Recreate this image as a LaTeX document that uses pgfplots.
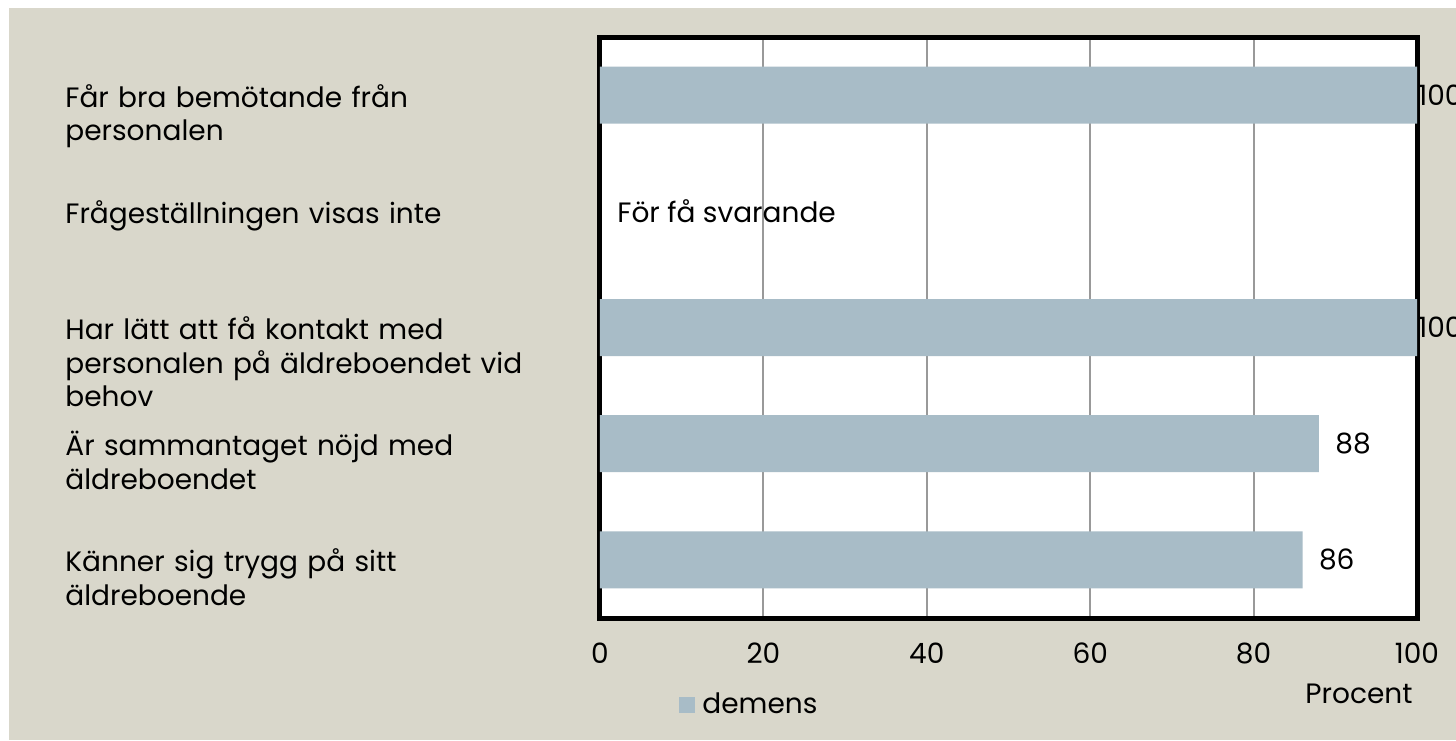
\documentclass[border=0pt]{standalone}
\usepackage{pgfplots}
\pgfplotsset{compat=1.18}
\usepackage{fontspec}
\setmainfont{Poppins}
\definecolor{bgc}{HTML}{D9D7CB}
\definecolor{barc}{HTML}{A8BCC7}
\definecolor{gridc}{HTML}{999999}
\newcommand{\lf}{\fontsize{14}{16.75}\selectfont}
\begin{document}
\begin{tikzpicture}[x=0.5pt,y=0.5pt]
\clip (0,0) rectangle (1456,740);
\fill[white] (0,0) rectangle (1456,740);
\fill[bgc] (9,0) rectangle (1456,732);
\begin{axis}[
  at={(300pt,61pt)}, anchor=south west,
  scale only axis, width=408.5pt, height=290.5pt,
  xmin=0, xmax=100, ymin=-0.5, ymax=4.5,
  xbar, bar width=28.5pt,
  axis background/.style={fill=white},
  axis line style={line width=2.5pt, black},
  xmajorgrids, grid style={gridc, line width=1pt},
  xtick={0,20,40,60,80,100},
  ytick={0,1,2,3,4},
  yticklabels={{Känner sig trygg på sitt\\äldreboende},
               {Är sammantaget nöjd med\\äldreboendet},
               {Har lätt att få kontakt med\\personalen på äldreboendet vid\\behov},
               {Frågeställningen visas inte},
               {Får bra bemötande från\\personalen}},
  major tick length=0pt,
  tick label style={font=\lf, text=black},
  /pgf/number format/assume math mode=true,
  xticklabel style={anchor=base, inner sep=0pt, yshift=-22.5pt},
  yticklabel style={anchor=base west, align=left, text width=255pt, inner sep=0pt, xshift=-267.5pt, yshift=-6pt},
  xlabel={Procent},
  xlabel style={at={(axis description cs:0.929,-0.148)}, anchor=base, inner sep=0pt, font=\lf},
  legend style={draw=none, fill=none, inner sep=0pt, font=\lf,
    at={(axis description cs:0.0967,-0.1497)}, anchor=west,
    nodes={inner sep=0pt},
    /tikz/every odd column/.append style={column sep=3.5pt}},
  legend image code/.code={\fill[barc] (0pt,-4pt) rectangle (8pt,4pt);},
  nodes near coords,
  every node near coord/.append style={font=\lf, text=black, anchor=west, inner sep=0pt},
]
\addplot[fill=barc, draw=none, bar shift=0pt,
  every node near coord/.append style={xshift=8pt}]
  coordinates {(86,0) (88,1)};
\addlegendentry{demens}
\addplot[fill=barc, draw=none, bar shift=0pt, forget plot,
  every node near coord/.append style={xshift=0.5pt}]
  coordinates {(100,2) (100,4)};
\node[anchor=base west, inner sep=0pt, font=\lf, yshift=-5.5pt] at (axis cs:2.08,3) {För få svarande};
\end{axis}
\end{tikzpicture}
\end{document}
